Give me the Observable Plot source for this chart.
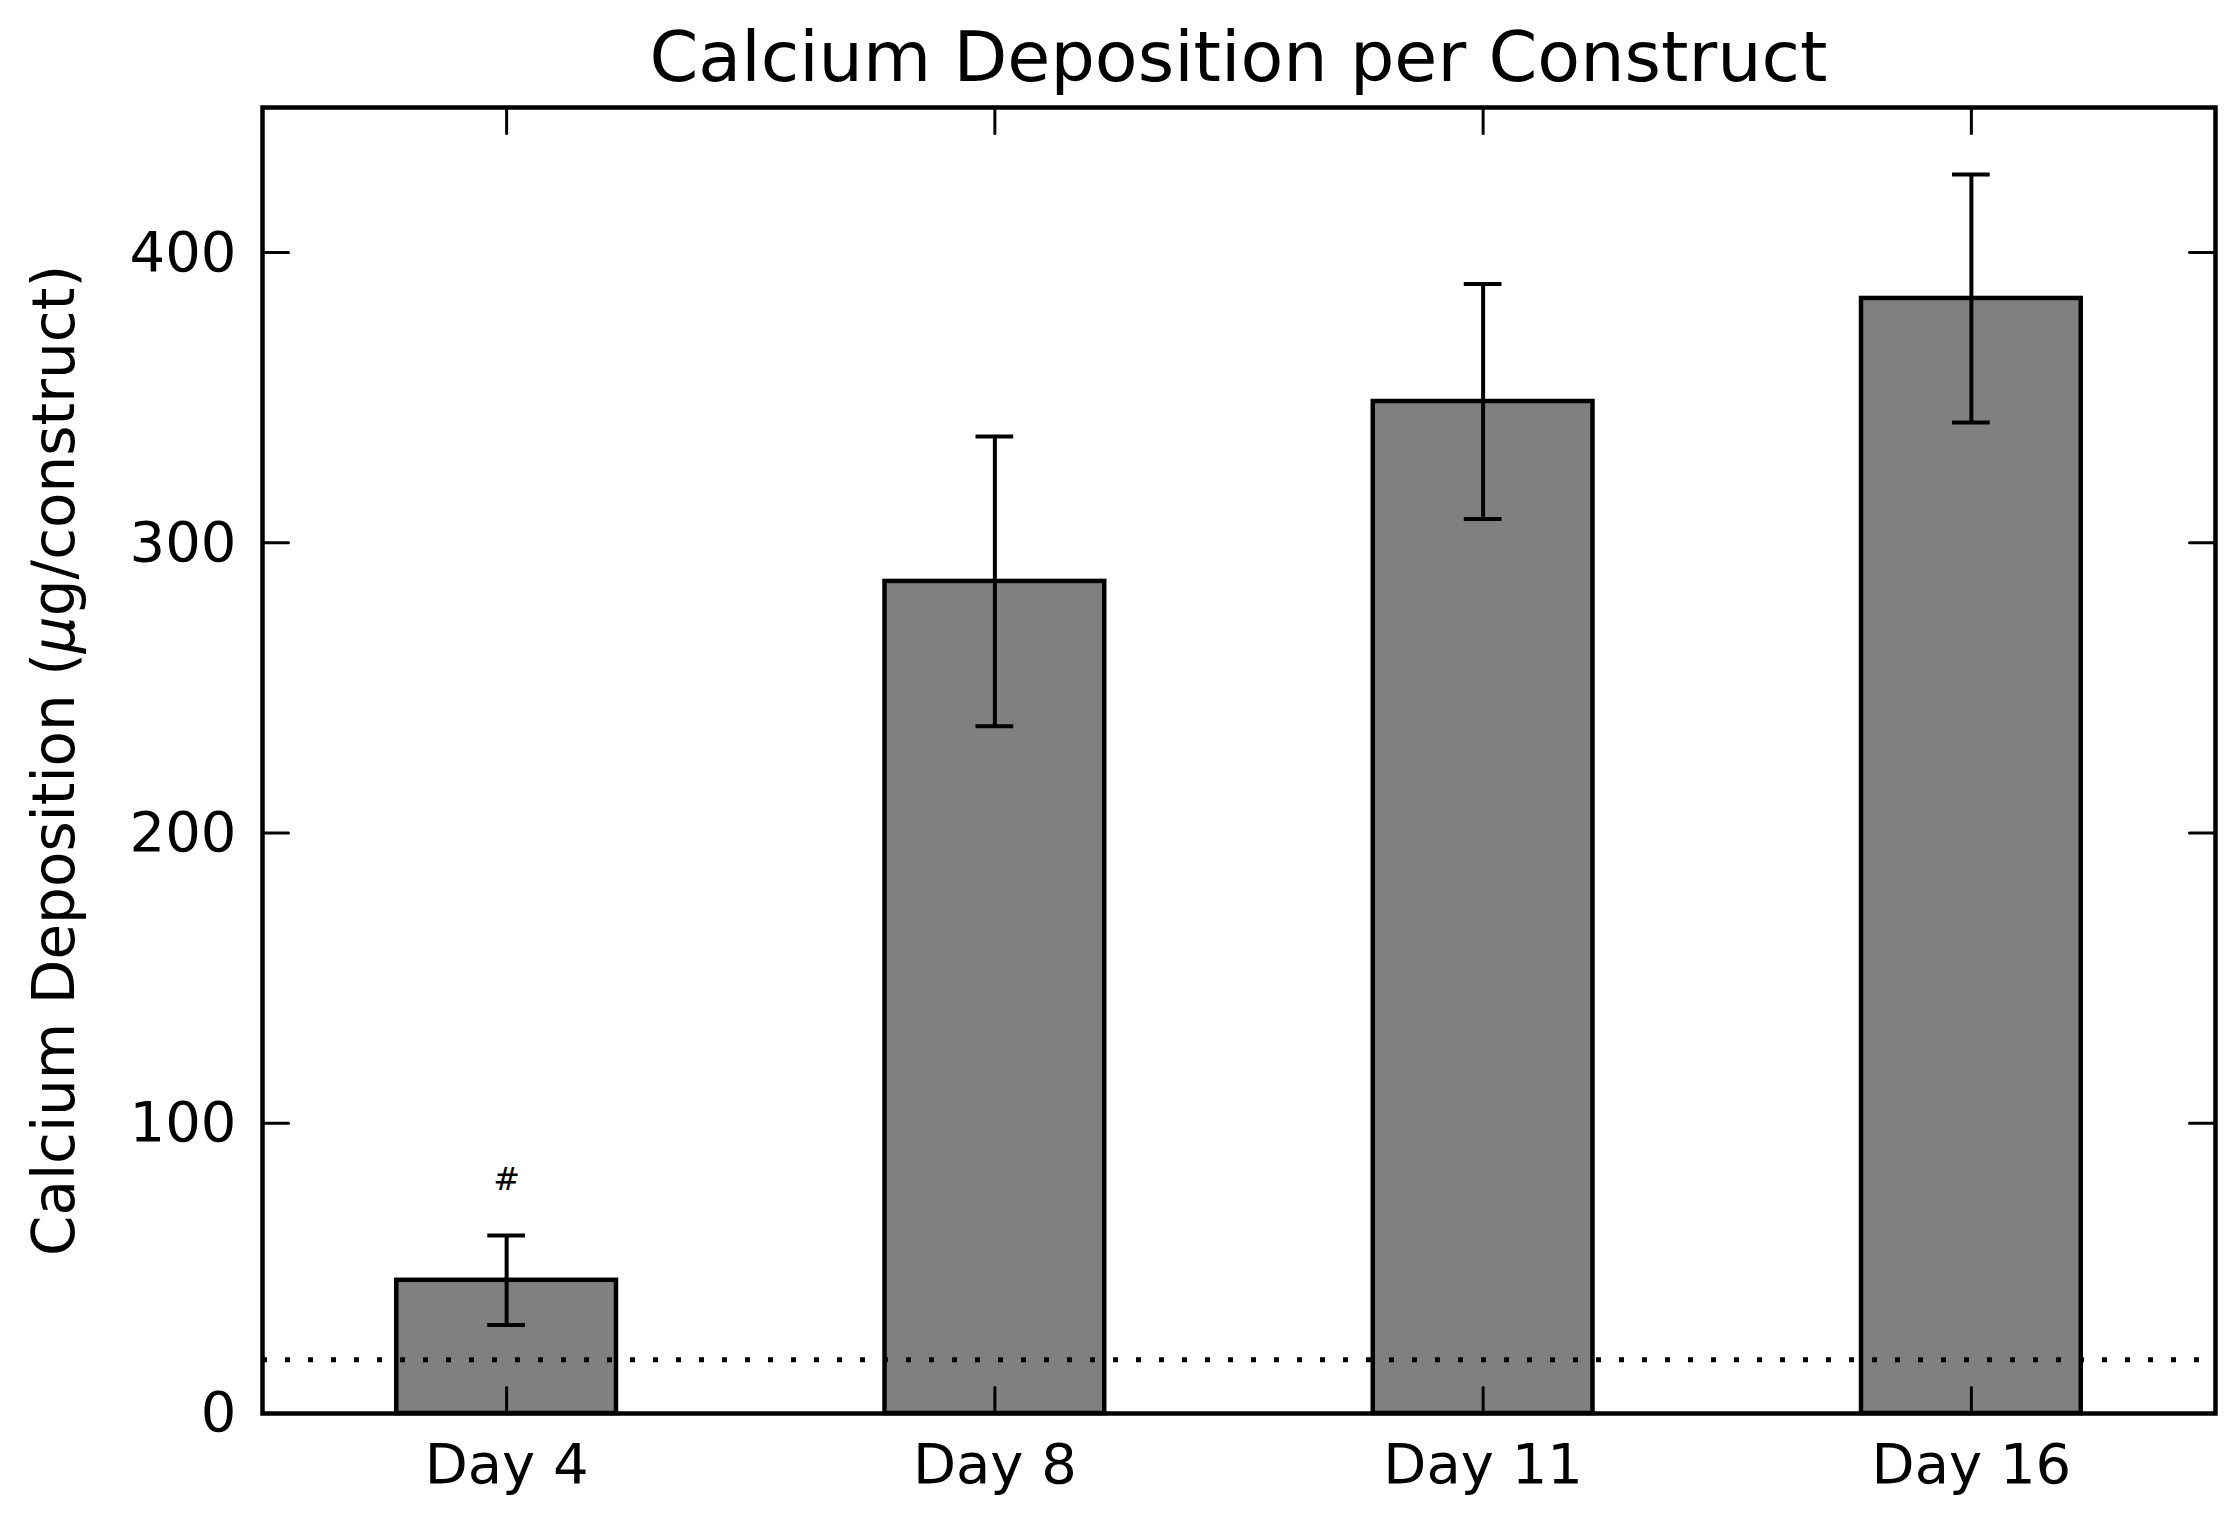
<!DOCTYPE html>
<html>
<head>
<meta charset="utf-8">
<script src="https://cdn.jsdelivr.net/npm/d3@7"></script>
<script src="https://cdn.jsdelivr.net/npm/@observablehq/plot@0.6"></script>
<style>
  body { margin: 0; background: #fff; font-family: "DejaVu Sans", sans-serif; }
  #title {
    box-sizing: border-box; width: 2240px; height: 92px;
    padding-top: 22px; padding-left: 262px; padding-right: 25px;
    font-size: 70px; line-height: 70px; text-align: center; color: #000; white-space: nowrap;
  }
  #chart svg { display: block; }
</style>
</head>
<body>
<div id="title">Calcium Deposition per Construct</div>
<div id="chart"></div>
<script>
// ---- data ----
const days = ["Day 4", "Day 8", "Day 11", "Day 16"];
const means = [45.9, 286.7, 348.7, 384.2];
const errors = [15.4, 49.9, 40.5, 42.7];
const yTicks = [0, 100, 200, 300, 400];
const yDomain = [0, 450];
const baselineLevel = [18.5];
const annotationText = ["#"];
const annotationDay = ["Day 4"];
const annotationY = [80.5];
const yLabel = "Calcium Deposition (μg/construct)";

const rows = days.map((d, i) => ({day: d, mean: means[i], err: errors[i]}));

const spike = {draw(ctx, l) { ctx.moveTo(0, 0); ctx.lineTo(0, -l); }};
const tickLen = 26;

const chart = Plot.plot({
  width: 2240,
  height: 1424,
  marginLeft: 262,
  marginRight: 25,
  marginTop: 15,
  marginBottom: 103,
  style: {fontFamily: "DejaVu Sans", fontSize: "56px", background: "white", color: "black"},
  x: {domain: days, paddingInner: 0.55, paddingOuter: 0.275, align: 0.5, round: false},
  y: {domain: yDomain},
  marks: [
    Plot.barY(rows, {x: "day", y: "mean", fill: "#808080", stroke: "black", strokeWidth: 4.5}),
    Plot.ruleY(baselineLevel, {stroke: "black", strokeWidth: 5, strokeDasharray: "5,18"}),
    Plot.ruleX(rows, {x: "day", y1: d => d.mean - d.err, y2: d => d.mean + d.err, stroke: "black", strokeWidth: 4}),
    Plot.tickY(rows, {x: "day", y: d => d.mean + d.err, insetLeft: 91, insetRight: 91, stroke: "black", strokeWidth: 4}),
    Plot.tickY(rows, {x: "day", y: d => d.mean - d.err, insetLeft: 91, insetRight: 91, stroke: "black", strokeWidth: 4}),
    Plot.frame({stroke: "black", strokeWidth: 4.5}),
    // inward ticks on all four sides
    Plot.vector(yTicks, {y: d => d, frameAnchor: "left", rotate: 90, length: tickLen, anchor: "start", shape: spike, stroke: "black", strokeWidth: 3}),
    Plot.vector(yTicks, {y: d => d, frameAnchor: "right", rotate: -90, length: tickLen, anchor: "start", shape: spike, stroke: "black", strokeWidth: 3}),
    Plot.vector(days, {x: d => d, frameAnchor: "bottom", rotate: 0, length: tickLen, anchor: "start", shape: spike, stroke: "black", strokeWidth: 3}),
    Plot.vector(days, {x: d => d, frameAnchor: "top", rotate: 180, length: tickLen, anchor: "start", shape: spike, stroke: "black", strokeWidth: 3}),
    Plot.axisY(yTicks, {tickSize: 0, tickPadding: 26, fontSize: 56, label: null}),
    Plot.axisX({tickSize: 0, tickPadding: 30, fontSize: 56, label: null}),
    Plot.text(annotationText, {x: (d, i) => annotationDay[i], y: (d, i) => annotationY[i], text: d => d, fontSize: 32, fill: "black"}),
    Plot.text([yLabel], {frameAnchor: "left", textAnchor: "middle", lineAnchor: "middle", rotate: -90, dx: -207, text: d => d, fontSize: 58, fill: "black"})
  ]
});

// italic mu, as in the mathtext label
d3.select(chart).selectAll("text").each(function () {
  if (this.textContent === yLabel) {
    const t = d3.select(this);
    t.text(null);
    t.append("tspan").text("Calcium Deposition (");
    t.append("tspan").attr("font-style", "italic").text("μ");
    t.append("tspan").text("g/construct)");
  }
});

document.getElementById("chart").appendChild(chart);
</script>
</body>
</html>
